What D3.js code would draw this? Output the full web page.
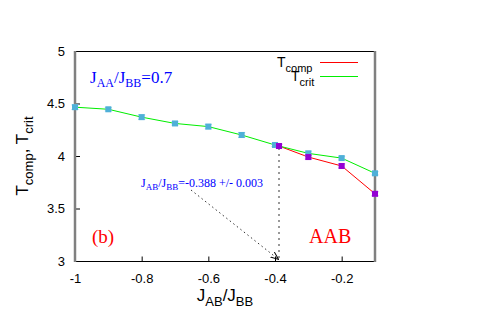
<!DOCTYPE html>
<html><head><meta charset="utf-8">
<script src="https://cdn.jsdelivr.net/npm/d3@7"></script>
<style>body{margin:0;background:#fff}svg{display:block}</style>
</head><body><svg id="c" width="500" height="314"></svg>
<script>
const xTicks = [-1, -0.8, -0.6, -0.4, -0.2];
const yTicks = [3, 3.5, 4, 4.5, 5];
const critX = [-1, -0.9, -0.8, -0.7, -0.6, -0.5, -0.4, -0.3, -0.2, -0.1];
const critY = [4.465, 4.445, 4.37, 4.31, 4.28, 4.2, 4.105, 4.025, 3.98, 3.835];
const critErr = [0.012, 0.006, 0.012, 0.006, 0.012, 0.015, 0.006, 0.012, 0.008, 0.006];
const compX = [-0.388, -0.3, -0.2, -0.1];
const compY = [4.095, 3.99, 3.905, 3.64];
const compErr = [0.008, 0.01, 0.01, 0.01];
const crossX = -0.388;

const svg = d3.select("#c");
const x = d3.scaleLinear().domain([-1, -0.1]).range([75, 375]);
const y = d3.scaleLinear().domain([3, 5]).range([261, 51]);

// frame
svg.append("line").attr("x1",75).attr("x2",375).attr("y1",51.5).attr("y2",51.5).attr("stroke","#000");
svg.append("line").attr("x1",75).attr("x2",375).attr("y1",261.5).attr("y2",261.5).attr("stroke","#000");

// axes
const xa = svg.append("g").attr("transform","translate(0,261.5)")
  .call(d3.axisBottom(x).tickValues(xTicks).tickSize(-5).tickPadding(12).tickFormat(d3.format("")));
const ya = svg.append("g").attr("transform","translate(75,0)")
  .call(d3.axisLeft(y).tickValues(yTicks).tickSize(-5).tickPadding(10).tickFormat(d3.format("")));
[xa, ya].forEach(g => {
  g.select(".domain").remove();
  g.selectAll(".tick line").attr("stroke","#000");
  g.selectAll("text").attr("font-family","Liberation Sans, Arial, sans-serif").attr("font-size",13).attr("fill","#000");
});
xa.selectAll("text").text(d => d === -1 ? "-1" : String(d));

// gray side borders
svg.append("line").attr("x1",75).attr("x2",75).attr("y1",51).attr("y2",262).attr("stroke","#808080").attr("stroke-width",2.5);
svg.append("line").attr("x1",375).attr("x2",375).attr("y1",51).attr("y2",262).attr("stroke","#808080").attr("stroke-width",2.5);

// vertical dotted crossing line
svg.append("line").attr("x1",x(crossX)).attr("x2",x(crossX)).attr("y1",y(compY[0])+2).attr("y2",261)
  .attr("stroke","#999").attr("stroke-width",2).attr("stroke-dasharray","2,4");

// arrow annotation
svg.append("defs").append("marker").attr("id","ah").attr("viewBox","0 0 10 10").attr("refX",9).attr("refY",5)
  .attr("markerWidth",8).attr("markerHeight",8).attr("orient","auto")
  .append("path").attr("d","M0,1 L10,5 L0,9").attr("fill","none").attr("stroke","#000").attr("stroke-width",1.2);
svg.append("line").attr("x1",191).attr("y1",190).attr("x2",x(crossX)-1).attr("y2",259)
  .attr("stroke","#333").attr("stroke-dasharray","1.5,3").attr("marker-end","url(#ah)");

// lines
const line = d3.line().x(d=>x(d[0])).y(d=>y(d[1]));
const crit = critX.map((v,i)=>[v, critY[i], critErr[i]]);
const comp = compX.map((v,i)=>[v, compY[i], compErr[i]]);
svg.append("path").datum(comp).attr("d",line).attr("fill","none").attr("stroke","#ff0000").attr("stroke-width",1);
svg.append("path").datum(crit).attr("d",line).attr("fill","none").attr("stroke","#00ee00").attr("stroke-width",1);

function points(data, col, errCol) {
  const g = svg.append("g");
  data.forEach(d => {
    const px = x(d[0]), py = y(d[1]);
    g.append("line").attr("x1",px).attr("x2",px).attr("y1",y(d[1]+d[2])-1).attr("y2",y(d[1]-d[2])+1).attr("stroke",errCol).attr("stroke-width",1.5);
    g.append("line").attr("x1",px-3.5).attr("x2",px+3.5).attr("y1",y(d[1]+d[2])-1).attr("y2",y(d[1]+d[2])-1).attr("stroke",errCol);
    g.append("line").attr("x1",px-3.5).attr("x2",px+3.5).attr("y1",y(d[1]-d[2])+1).attr("y2",y(d[1]-d[2])+1).attr("stroke",errCol);
    g.append("rect").attr("x",px-3).attr("y",py-3).attr("width",6).attr("height",6).attr("fill",col);
  });
}
points(crit, "#4fb0d8", "#9ad4ee");
points(comp, "#9400d3", "#c27fe6");

// texts
const serif = "Liberation Serif, Times New Roman, serif";
const sans = "Liberation Sans, Arial, sans-serif";
function sub(t, parts, base) {
  parts.forEach(p => {
    const s = t.append("tspan").text(p[0]);
    if (p[1]) s.attr("font-size", p[1]);
    if (p[2]) s.attr("dy", p[2]);
  });
}
let t = svg.append("text").attr("x",90).attr("y",83).attr("font-family",serif).attr("font-size",17).attr("fill","#0000ff");
sub(t, [["J"],["AA",12,4],["/J",17,-4],["BB",12,4],["=0.7",17,-4]]);

t = svg.append("text").attr("x",141).attr("y",187).attr("font-family",serif).attr("font-size",12).attr("fill","#0000ff");
sub(t, [["J"],["AB",9,3],["/J",12,-3],["BB",9,3],["=-0.388 +/- 0.003",12,-3]]);

svg.append("text").attr("x",92).attr("y",243).attr("font-family",serif).attr("font-size",19).attr("fill","#ff0000").text("(b)");
svg.append("text").attr("x",309).attr("y",243).attr("font-family",serif).attr("font-size",20).attr("fill","#ff0000").text("AAB");

// legend
t = svg.append("text").attr("x",277).attr("y",67).attr("font-family",sans).attr("font-size",14).attr("fill","#000");
sub(t, [["T"],["comp",11,5]]);
t = svg.append("text").attr("x",291).attr("y",81).attr("font-family",sans).attr("font-size",14).attr("fill","#000");
sub(t, [["T"],["crit",11,5]]);
svg.append("line").attr("x1",320).attr("x2",358).attr("y1",62.5).attr("y2",62.5).attr("stroke","#ff0000");
svg.append("line").attr("x1",320).attr("x2",358).attr("y1",76.5).attr("y2",76.5).attr("stroke","#00ee00");

// axis labels
t = svg.append("text").attr("x",225).attr("y",301).attr("text-anchor","middle").attr("font-family",sans).attr("font-size",17).attr("fill","#000");
sub(t, [["J"],["AB",13,5],["/J",17,-5],["BB",13,5]]);
t = svg.append("text").attr("transform","translate(28,156) rotate(-90)").attr("text-anchor","middle").attr("font-family",sans).attr("font-size",17).attr("fill","#000");
sub(t, [["T"],["comp",13,5],[", T",17,-5],["crit",13,5]]);
</script></body></html>
